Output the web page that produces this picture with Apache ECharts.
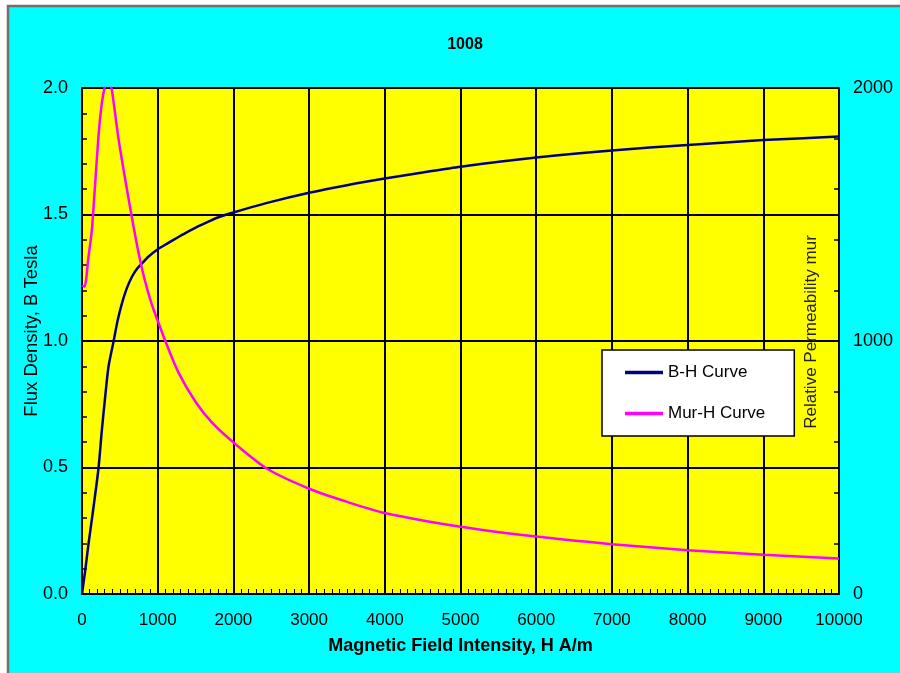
<!DOCTYPE html>
<html>
<head>
<meta charset="utf-8">
<script src="https://cdn.jsdelivr.net/npm/echarts@6/dist/echarts.min.js"></script>
<style>
html,body{margin:0;padding:0;background:#fff;}
#main{width:900px;height:673px;}
</style>
</head>
<body>
<div id="main"></div>
<script>
// B-H curve: H (A/m) and B (Tesla)
var bhH = [0, 42, 86, 152, 218, 262, 306, 350, 416, 470, 526, 590, 658, 720, 790, 880, 997, 1130, 1275, 1400, 1539, 1670, 1803, 2000, 2446, 3000, 3500, 4000, 4500, 5000, 6000, 7000, 8000, 9000, 10000];
var bhB = [0, 0.092, 0.198, 0.343, 0.497, 0.647, 0.779, 0.898, 0.997, 1.080, 1.147, 1.207, 1.253, 1.283, 1.306, 1.334, 1.362, 1.386, 1.411, 1.432, 1.454, 1.472, 1.489, 1.508, 1.546, 1.586, 1.616, 1.642, 1.666, 1.689, 1.725, 1.753, 1.775, 1.794, 1.808];
// Mur-H curve: H (A/m) and relative permeability
var muH = [0, 33, 86, 130, 174, 218, 262, 306, 350, 394, 482, 570, 658, 746, 834, 922, 1010, 1120, 1275, 1495, 1715, 2005, 2446, 3009, 3503, 4000, 5000, 6000, 7000, 8000, 9000, 10000];
var muR = [1219, 1215, 1333, 1438, 1623, 1810, 1940, 2010, 2040, 1993, 1800, 1640, 1490, 1350, 1235, 1145, 1072, 985, 875, 762, 678, 598, 495, 415, 364, 320, 266, 227, 197, 173, 155, 140];

var titleText = '1008';
var xName = 'Magnetic Field Intensity, H A/m';
var yLeftName = 'Flux Density, B Tesla';
var yRightName = 'Relative Permeability mur';

function pairs(xs, ys) {
  var out = [];
  for (var i = 0; i < xs.length; i++) out.push([xs[i], ys[i]]);
  return out;
}

var chart = echarts.init(document.getElementById('main'), null, {renderer: 'canvas'});
var FONT = '"Liberation Sans", Arial, sans-serif';

var option = {
  backgroundColor: '#ffffff',
  animation: false,
  graphic: [{
    type: 'rect',
    z: -10,
    silent: true,
    shape: {x: 8, y: 6, width: 920, height: 700},
    style: {fill: '#00FFFF', stroke: '#707070', lineWidth: 2.5}
  }],
  title: {
    text: titleText,
    left: 460,
    top: 32,
    textAlign: 'center',
    textStyle: {fontFamily: FONT, fontSize: 16, fontWeight: 'bold', color: '#000'}
  },
  legend: {
    orient: 'vertical',
    left: 602,
    top: 350,
    align: 'left',
    padding: [14, 29, 14, 23],
    itemGap: 24,
    itemWidth: 38,
    itemHeight: 3.5,
    icon: 'rect',
    backgroundColor: '#ffffff',
    borderColor: '#000',
    borderWidth: 1.5,
    borderRadius: 0,
    textStyle: {fontFamily: FONT, fontSize: 17, color: '#000'},
    data: ['B-H Curve', 'Mur-H Curve']
  },
  grid: {
    left: 82,
    right: 61,
    top: 88,
    bottom: 79,
    show: true,
    backgroundColor: '#FFFF00',
    borderColor: '#888888',
    borderWidth: 1.5
  },
  xAxis: {
    type: 'value',
    min: 0,
    max: 10000,
    interval: 1000,
    name: xName,
    nameLocation: 'middle',
    nameGap: 43,
    nameMoveOverlap: false,
    nameTextStyle: {fontFamily: FONT, fontSize: 18, fontWeight: 'bold', color: '#000'},
    axisLine: {show: true, onZero: false, lineStyle: {color: '#000', width: 2}},
    axisTick: {show: true, inside: true, length: 5, lineStyle: {color: '#000', width: 1.5}},
    minorTick: {show: true, splitNumber: 10, length: 5, lineStyle: {color: '#000', width: 1}},
    splitLine: {show: true, lineStyle: {color: '#000', width: 2}},
    axisLabel: {fontFamily: FONT, fontSize: 17, color: '#000', margin: 18,
      formatter: function (v) { return String(v); }}
  },
  yAxis: [{
    type: 'value',
    position: 'left',
    min: 0,
    max: 2,
    interval: 0.5,
    name: yLeftName,
    nameLocation: 'middle',
    nameGap: 41,
    nameMoveOverlap: false,
    nameTextStyle: {fontFamily: FONT, fontSize: 18.5, color: '#000', padding: [0, 0, 0, 20]},
    axisLine: {show: true, onZero: false, lineStyle: {color: '#000', width: 2}},
    axisTick: {show: true, inside: true, length: 5, lineStyle: {color: '#000', width: 1.5}},
    minorTick: {show: true, splitNumber: 5, length: 5, lineStyle: {color: '#000', width: 1.5}},
    splitLine: {show: true, lineStyle: {color: '#000', width: 2}},
    axisLabel: {fontFamily: FONT, fontSize: 18, color: '#000', margin: 14,
      formatter: function (v) { return v.toFixed(1); }}
  }, {
    type: 'value',
    position: 'right',
    min: 0,
    max: 2000,
    interval: 1000,
    name: yRightName,
    nameLocation: 'middle',
    nameGap: -36,
    nameMoveOverlap: false,
    nameTextStyle: {fontFamily: FONT, fontSize: 17, color: '#222', padding: [0, 0, 0, 18]},
    axisLine: {show: true, onZero: false, lineStyle: {color: '#000', width: 2}},
    axisTick: {show: true, inside: true, length: 5, lineStyle: {color: '#000', width: 1.5}},
    minorTick: {show: true, splitNumber: 5, length: 5, lineStyle: {color: '#000', width: 1.5}},
    splitLine: {show: false},
    axisLabel: {fontFamily: FONT, fontSize: 18, color: '#000', margin: 14,
      formatter: function (v) { return String(v); }}
  }],
  series: [{
    name: 'B-H Curve',
    type: 'line',
    yAxisIndex: 0,
    data: pairs(bhH, bhB),
    symbol: 'none',
    smooth: 0.25,
    clip: true,
    color: '#000080',
    lineStyle: {color: '#000080', width: 2.5},
    z: 3
  }, {
    name: 'Mur-H Curve',
    type: 'line',
    yAxisIndex: 1,
    data: pairs(muH, muR),
    symbol: 'none',
    smooth: 0.25,
    clip: true,
    color: '#FF00FF',
    lineStyle: {color: '#FF00FF', width: 2.5},
    z: 3
  }]
};
chart.setOption(option);
</script>
</body>
</html>
